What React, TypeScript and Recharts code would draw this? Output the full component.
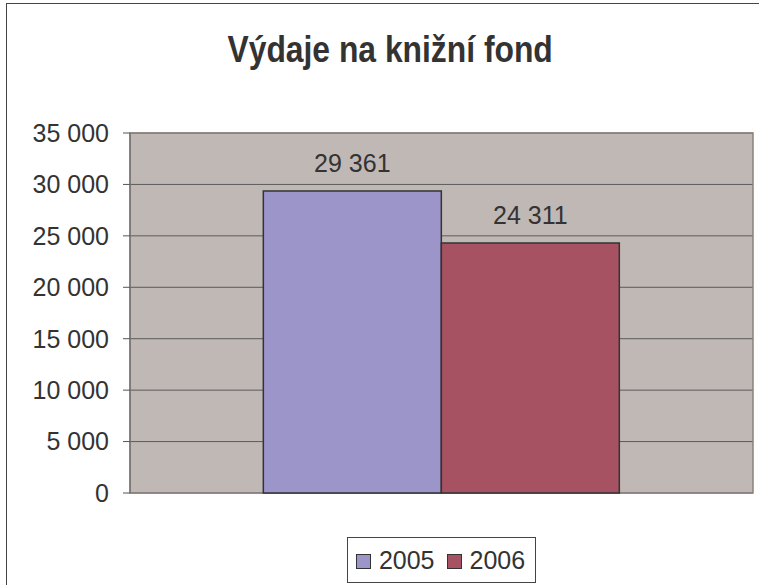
import { BarChart, Bar, XAxis, YAxis, CartesianGrid, LabelList, ReferenceArea } from 'recharts';

const categories = ['Výdaje'];
const values2005 = [29361];
const values2006 = [24311];
const yTicks = [0, 5000, 10000, 15000, 20000, 25000, 30000, 35000];
const legendLabels = ['2005', '2006'];

const COLORS = ['#9b95c9', '#a65262'];
const FONT = '"Liberation Sans", Arial, sans-serif';

const data = categories.map((name, i) => ({
  name,
  y2005: values2005[i],
  y2006: values2006[i],
}));

const fmt = (v: number) => String(v).replace(/\B(?=(\d{3})+(?!\d))/g, ' ');

function LegendBox() {
  return (
    <div
      style={{
        display: 'inline-flex',
        alignItems: 'center',
        boxSizing: 'border-box',
        height: 46,
        border: '1.5px solid #444',
        background: '#fff',
        padding: '0 10px 0 8px',
        fontFamily: FONT,
        fontSize: 25,
        lineHeight: '28px',
        color: '#333',
      }}
    >
      {legendLabels.map((label, i) => (
        <span key={label} style={{ display: 'inline-flex', alignItems: 'center', marginLeft: i ? 12 : 0 }}>
          <span
            style={{
              boxSizing: 'border-box',
              width: 15,
              height: 15,
              background: COLORS[i],
              border: '1.5px solid #333',
              display: 'inline-block',
              marginRight: 8,
              marginTop: 3,
            }}
          />
          {label}
        </span>
      ))}
    </div>
  );
}

export default function App() {
  return (
    <div style={{ position: 'relative', width: 759, height: 585, overflow: 'hidden', background: '#fff' }}>
      <style>{'body{margin:0}'}</style>
      <BarChart
        width={759}
        height={585}
        data={data}
        margin={{ top: 133, right: 6, bottom: 92, left: 30 }}
        barCategoryGap="21.4%"
        barGap={0}
      >
        <CartesianGrid vertical={false} fill="#c0b8b5" stroke="#5a5a5a" strokeOpacity={1} />
        <XAxis dataKey="name" hide />
        <YAxis
          width={100}
          domain={[0, 35000]}
          ticks={yTicks}
          tickFormatter={fmt}
          axisLine={{ stroke: '#666' }}
          tickLine={{ stroke: '#555' }}
          tickSize={7}
          tickMargin={14}
          tick={{ fill: '#333', fontSize: 25, fontFamily: FONT }}
          interval={0}
        />
        <ReferenceArea y1={0} y2={35000} fill="none" stroke="#8b817d" strokeWidth={1.5} ifOverflow="visible" />
        <Bar dataKey="y2005" fill={COLORS[0]} stroke="#333" strokeWidth={1.5} isAnimationActive={false}>
          <LabelList dataKey="y2005" position="top" offset={19} formatter={fmt} fill="#333" fontSize={25} fontFamily={FONT} />
        </Bar>
        <Bar dataKey="y2006" fill={COLORS[1]} stroke="#333" strokeWidth={1.5} isAnimationActive={false}>
          <LabelList dataKey="y2006" position="top" offset={19} formatter={fmt} fill="#333" fontSize={25} fontFamily={FONT} />
        </Bar>
      </BarChart>
      <div
        style={{
          position: 'absolute',
          left: 0,
          top: 29,
          width: 781,
          textAlign: 'center',
          fontFamily: FONT,
          fontWeight: 'bold',
          fontSize: 37,
          lineHeight: '42px',
          color: '#333',
          whiteSpace: 'nowrap',
        }}
      >
        <span style={{ display: 'inline-block', transform: 'scaleX(0.86)', transformOrigin: 'center' }}>
          Výdaje na knižní fond
        </span>
      </div>
      <div style={{ position: 'absolute', left: 130, top: 537, width: 623, textAlign: 'center' }}>
        <LegendBox />
      </div>
      <div
        style={{
          position: 'absolute',
          left: 6,
          top: 3,
          width: 800,
          height: 700,
          border: '1.5px solid #444',
          pointerEvents: 'none',
          zIndex: 5,
        }}
      />
    </div>
  );
}
